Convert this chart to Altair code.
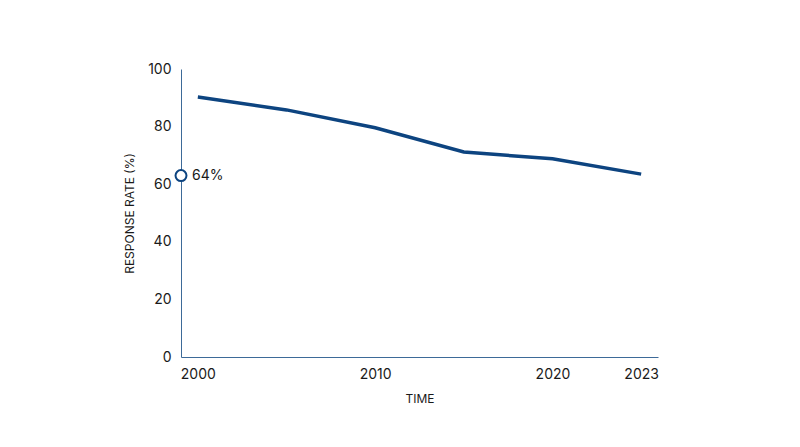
import altair as alt
import pandas as pd

years = ["2000", "2005", "2010", "2015", "2020", "2023"]
rates = [90.3, 85.8, 79.6, 71.2, 68.8, 63.5]
shown_years = ["2000", "2010", "2020", "2023"]

marker_value = [63]
marker_label = ["64%"]

df = pd.DataFrame({"year": years, "rate": rates})
mk = pd.DataFrame({"year": ["2000"], "rate": marker_value, "label": marker_label})

FONT = "Inter"
NAVY = "#0d4480"
AXIS = "#3d6a98"
TXT = "#1a1a1a"

x_enc = alt.X(
    "year:O",
    title="TIME",
    scale=alt.Scale(type="point", padding=0.19),
    axis=alt.Axis(
        labelExpr="indexof(['" + "','".join(shown_years) + "'], datum.label) >= 0 ? datum.label : ''",
        labelAngle=0,
        ticks=False,
        domainColor=AXIS,
        domainWidth=1,
        labelFontSize=14,
        labelColor=TXT,
        labelPadding=10,
        titleFontSize=12,
        titleFontWeight="normal",
        titleColor=TXT,
        titlePadding=12,
        labelFont=FONT,
        titleFont=FONT,
    ),
)

y_scale = alt.Scale(domain=[0, 100], nice=False, zero=True)
y_axis = alt.Axis(
    values=[0, 20, 40, 60, 80, 100],
    grid=False,
    ticks=False,
    domainColor=AXIS,
    domainWidth=1,
    labelFontSize=14,
    labelColor=TXT,
    labelPadding=10,
    titleFontSize=12,
    titleFontWeight="normal",
    titleColor=TXT,
    titlePadding=11,
    labelFont=FONT,
    titleFont=FONT,
)

line = alt.Chart(df).mark_line(color=NAVY, strokeWidth=3.5).encode(
    x=x_enc,
    y=alt.Y("rate:Q", title="RESPONSE RATE (%)", scale=y_scale, axis=y_axis),
)

circle = alt.Chart(mk).mark_point(
    shape="circle", filled=True, fill="white", stroke=NAVY, strokeWidth=2, size=120, opacity=1
).encode(
    x=alt.value(0),
    y=alt.Y("rate:Q", scale=y_scale),
)

label = alt.Chart(mk).mark_text(
    align="left", baseline="middle", dx=11, fontSize=14, font=FONT, color=TXT
).encode(
    x=alt.value(0),
    y=alt.Y("rate:Q", scale=y_scale),
    text="label:N",
)

chart = (
    alt.layer(line, circle, label)
    .properties(
        width=477,
        height=288,
        autosize=alt.AutoSizeParams(type="none"),
        padding={"left": 173, "top": 61, "right": 10, "bottom": 70},
        background="white",
    )
    .configure_view(stroke=None)
)

chart.save("out.html", embed_options={"renderer": "svg", "actions": False})
